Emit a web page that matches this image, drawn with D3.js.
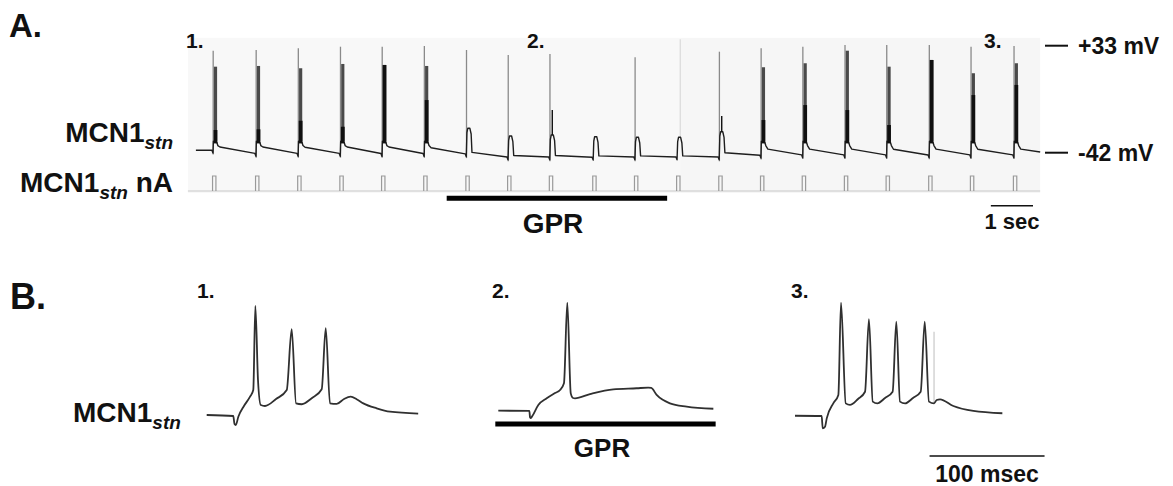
<!DOCTYPE html>
<html><head><meta charset="utf-8">
<script src="https://cdn.jsdelivr.net/npm/d3@7"></script>
<style>
body{margin:0;background:#fff}
svg{display:block}
text{font-family:"Liberation Sans",Arial,sans-serif;font-weight:bold;fill:#111}
</style>
</head><body>
<svg id="c" width="1173" height="486"></svg>
<script>
// ---------- Panel A data (time in s, membrane potential in mV) ----------
const burstTimes = [0.55,1.57,2.57,3.57,4.56,5.56,6.56,7.55,8.54,9.57,10.56,11.56,12.56,13.55,14.54,15.54,16.53,17.54,18.53,19.55];
const spikePeak  = [29.5,30.0,31.2,32.3,32.3,32.8,30.0,26.5,27.2,null,24.9,null,28.8,31.2,32.3,33.5,33.5,33.5,32.3,32.8];
const bandTop    = [18.3,18.8,17.2,20.2,19.5,18.8,null,null,null,null,null,null,null,17.9,20.7,29.5,18.3,23.0,13.7,20.7];
const coreTop    = [-26.1,-25.6,-19.6,-23.8,19.5,-5.1,null,null,-12.1,null,null,null,-16.3,-19.1,-8.6,-12.1,-22.6,23.0,-1.6,5.5];
const humpTop    = [null,null,null,null,null,null,-24.9,-30.3,-29.6,-30.8,-31.2,-31.2,-27.3,null,null,null,null,null,null,null];
const preLevel   = [-40.3,-42.5,-42.5,-42.5,-42.6,-42.6,-42.8,-45.0,-45.0,-45.2,-45.0,-45.0,-45.0,-43.8,-43.5,-43.5,-43.5,-43.6,-43.5,-43.5];
const postLevel  = [-38.0,-38.0,-38.2,-38.0,-38.0,-38.5,-41.8,-44.0,-44.0,-44.2,-44.2,-44.2,-42.0,-39.5,-39.5,-39.5,-39.6,-39.5,-39.6,-39.5];
const traceStartA = 0.14, traceEndA = 20.17, traceEndLevel = -41.5;
const stimAmplitude = 1;            // command pulse (relative nA)
const stimDuration = 0.08;          // s
const gprA = [6.09, 11.32];         // s, GPR application bar
const scaleBarA = [19.0, 20.0];     // 1 sec
const voltTicks = [33, -42];
const voltTickLabels = ["+33 mV", "-42 mV"];
const seamTime = 11.63;

// ---------- Panel B data (time in ms, membrane potential in mV) ----------
const trace1 = [[0,-45],[23.1,-45.7],[24.2,-51.2],[25.3,-51.9],[27.5,-46.2],[32.4,-38.8],[37.7,-32.4],[40.5,-27.8],[42.3,30],[44.6,-20.9],[47.0,-38.1],[50.7,-38.8],[60.3,-34.0],[69.6,-27.8],[73.9,14.0],[77.7,-37.0],[82.6,-37.6],[91.6,-33.3],[100.0,-27.3],[103.5,14.7],[107.2,-37.0],[113.0,-37.4],[119.4,-34.0],[125.2,-32.4],[130.7,-34.3],[136.2,-37.0],[147.8,-40.4],[159.4,-42.7],[183.9,-44.0]];
const trace2 = [[0,-42.0],[27.0,-42.2],[27.6,-46.6],[28.3,-47.1],[29.6,-45.7],[34.8,-38.1],[42.1,-33.5],[49.3,-29.9],[53.7,-27.8],[57.1,-23.2],[60.0,32.3],[63.0,-30.1],[65.0,-33.3],[66.7,-33.5],[79.7,-30.6],[100.0,-27.3],[120.3,-26.6],[130.4,-26.2],[133.0,-26.4],[137.7,-31.2],[149.3,-37.0],[163.8,-39.3],[187.0,-40.7]];
const trace3 = [[0,-45.5],[23.2,-45.7],[24.1,-54.2],[26.1,-53.1],[27.6,-47.3],[33.3,-37.0],[37.7,-31.2],[40.0,32.3],[44.1,-37.0],[47.8,-38.1],[54.8,-34.0],[60.9,-29.0],[64.3,20.9],[67.6,-35.8],[71.6,-37.0],[78.3,-33.3],[84.9,-29.0],[88.1,19.2],[91.3,-35.8],[95.7,-37.0],[102.6,-33.3],[109.3,-29.0],[112.8,19.2],[116.5,-35.8],[120.9,-37.0],[123.2,-34.7],[126.1,-34.2],[137.7,-38.8],[155.1,-42.2],[180.3,-43.8]];
const trace3Artifact = [[120.9,12.3],[120.9,-37.0]];
const gprB = [-2.6, 189.0];         // ms on trace 2 time base
const scaleBarB = [117, 217];       // 100 msec on trace 3 time base
const panelLabels = ["1.","2.","3."];

// ---------- drawing ----------
const svg = d3.select("#c");

const xA = d3.scaleLinear().domain([0,20]).range([190,1033]);
const yA = d3.scaleLinear().domain([-42,33]).range([152.7,45.7]);
const yStim = d3.scaleLinear().domain([0,stimAmplitude]).range([191,176]);

// recording background
svg.append("rect").attr("x",xA(-0.05)).attr("y",yA(38.5))
  .attr("width",xA(seamTime)-xA(-0.05)).attr("height",yStim(-0.13)-yA(38.5)).attr("fill","#f8f8f8");
svg.append("rect").attr("x",xA(seamTime)).attr("y",yA(38.5))
  .attr("width",xA(traceEndA)-xA(seamTime)).attr("height",yStim(-0.13)-yA(38.5)).attr("fill","#f6f6f6");
svg.append("line").attr("x1",xA(seamTime)).attr("x2",xA(seamTime))
  .attr("y1",yA(37.5)).attr("y2",yA(-32)).attr("stroke","#d4d4d4").attr("stroke-width",1);

// stim channel
svg.append("line").attr("x1",xA(-0.05)).attr("x2",xA(traceEndA))
  .attr("y1",yStim(0)).attr("y2",yStim(0)).attr("stroke","#c8c8c8").attr("stroke-width",1);
svg.append("g").selectAll("path").data(burstTimes).join("path")
  .attr("d",t=>{
    const a=xA(t-0.015), b=xA(t-0.015+stimDuration);
    return `M${a},${yStim(0)}L${a},${yStim(stimAmplitude)}L${b},${yStim(stimAmplitude)}L${b},${yStim(0)}`;
  })
  .attr("fill","none").attr("stroke","#9a9a9a").attr("stroke-width",1.2);

// thin gray spikes
svg.append("g").selectAll("line").data(burstTimes.map((t,i)=>({t,i})).filter(d=>spikePeak[d.i]!=null)).join("line")
  .attr("x1",d=>xA(d.t)).attr("x2",d=>xA(d.t))
  .attr("y1",d=>yA(spikePeak[d.i])).attr("y2",d=>yA(preLevel[d.i]-3))
  .attr("stroke","#8a8a8a").attr("stroke-width",1.3);

// burst bands
svg.append("g").selectAll("line").data(burstTimes.map((t,i)=>({t,i})).filter(d=>bandTop[d.i]!=null)).join("line")
  .attr("x1",d=>xA(d.t+0.055)).attr("x2",d=>xA(d.t+0.055))
  .attr("y1",d=>yA(bandTop[d.i])).attr("y2",d=>yA(-34))
  .attr("stroke","#4a4a4a").attr("stroke-width",3.2);

// main trace A
const ptsA = [[traceStartA, preLevel[0]]];
burstTimes.forEach((t,i)=>{
  const gpr = humpTop[i]!=null;
  ptsA.push([t-0.03, preLevel[i]]);
  ptsA.push([t-0.005, preLevel[i]-2]);
  if(gpr){
    ptsA.push([t+0.01, humpTop[i]-3]);
    ptsA.push([t+0.03, humpTop[i]]);
    ptsA.push([t+0.08, humpTop[i]]);
    ptsA.push([t+0.11, humpTop[i]-4]);
    ptsA.push([t+0.13, postLevel[i]]);
  } else {
    ptsA.push([t+0.005, -34]);
    ptsA.push([t+0.09, -35]);
    ptsA.push([t+0.11, -37]);
    ptsA.push([t+0.16, postLevel[i]]);
  }
});
ptsA.push([traceEndA, traceEndLevel]);
svg.append("path").datum(ptsA)
  .attr("d",d3.line().x(d=>xA(d[0])).y(d=>yA(d[1])))
  .attr("fill","none").attr("stroke","#1e1e1e").attr("stroke-width",1.4).attr("stroke-linejoin","round");

// dark burst cores
svg.append("g").selectAll("line").data(burstTimes.map((t,i)=>({t,i})).filter(d=>coreTop[d.i]!=null)).join("line")
  .attr("x1",d=>xA(d.t+0.055)).attr("x2",d=>xA(d.t+0.055))
  .attr("y1",d=>yA(coreTop[d.i]))
  .attr("y2",d=>humpTop[d.i]!=null ? yA(humpTop[d.i]) : yA(-35.5))
  .attr("stroke","#101010").attr("stroke-width",d=>humpTop[d.i]!=null?1.4:3.8);

// voltage ticks
voltTicks.forEach((v,i)=>{
  svg.append("line").attr("x1",1045).attr("x2",1068).attr("y1",yA(v)).attr("y2",yA(v))
    .attr("stroke","#111").attr("stroke-width",2);
  svg.append("text").attr("x",1078).attr("y",yA(v)+7.8).attr("font-size",23).text(voltTickLabels[i]);
});

// GPR bar A
svg.append("line").attr("x1",xA(gprA[0])).attr("x2",xA(gprA[1])).attr("y1",198.3).attr("y2",198.3)
  .attr("stroke","#000").attr("stroke-width",5);
svg.append("text").attr("x",553).attr("y",233).attr("text-anchor","middle").attr("font-size",28).text("GPR");

// 1 sec scale bar
svg.append("line").attr("x1",xA(scaleBarA[0])).attr("x2",xA(scaleBarA[1])).attr("y1",205.7).attr("y2",205.7)
  .attr("stroke","#111").attr("stroke-width",1.6);
svg.append("text").attr("x",(xA(scaleBarA[0])+xA(scaleBarA[1]))/2).attr("y",228.5).attr("text-anchor","middle")
  .attr("font-size",22).text("1 sec");

// panel A labels
svg.append("text").attr("x",9).attr("y",37).attr("font-size",33).text("A.");
[[186,48],[527,48],[984,48]].forEach((p,i)=>svg.append("text").attr("x",p[0]).attr("y",p[1]).attr("font-size",21).text(panelLabels[i]));

function mcnLabel(x,y,anchor,suffix){
  const t = svg.append("text").attr("x",x).attr("y",y).attr("text-anchor",anchor).attr("font-size",28);
  t.append("tspan").text("MCN1");
  t.append("tspan").attr("dy",7).attr("font-size",19).attr("font-style","italic").text("stn");
  if(suffix) t.append("tspan").attr("dy",-7).text(suffix);
}
mcnLabel(173,142,"end",null);
mcnLabel(173,192,"end","\u00a0nA");

// ---------- Panel B ----------
const yB = d3.scaleLinear().domain([-45,30]).range([415,306]);
const xB1 = d3.scaleLinear().domain([0,100]).range([206.7,321.7]);
const xB2 = d3.scaleLinear().domain([0,100]).range([498.3,613.3]);
const xB3 = d3.scaleLinear().domain([0,100]).range([795,910]);

svg.append("text").attr("x",10).attr("y",309).attr("font-size",36).text("B.");
[[197,298],[492,298],[791,298]].forEach((p,i)=>svg.append("text").attr("x",p[0]).attr("y",p[1]).attr("font-size",21).text(panelLabels[i]));
mcnLabel(73,422,"start",null);

svg.append("path").datum(trace3Artifact)
  .attr("d",d3.line().x(d=>xB3(d[0])).y(d=>yB(d[1])))
  .attr("stroke","#c8c8c8").attr("stroke-width",1.2);

[[trace1,xB1],[trace2,xB2],[trace3,xB3]].forEach(([tr,xs])=>{
  svg.append("path").datum(tr)
    .attr("d",d3.line().x(d=>xs(d[0])).y(d=>yB(d[1])).curve(d3.curveMonotoneX))
    .attr("fill","none").attr("stroke","#303030").attr("stroke-width",1.8).attr("stroke-linejoin","round");
});

// GPR bar B
svg.append("line").attr("x1",xB2(gprB[0])).attr("x2",xB2(gprB[1])).attr("y1",424).attr("y2",424)
  .attr("stroke","#000").attr("stroke-width",5);
svg.append("text").attr("x",602).attr("y",456.7).attr("text-anchor","middle").attr("font-size",26).text("GPR");

// 100 msec scale bar
svg.append("line").attr("x1",xB3(scaleBarB[0])).attr("x2",xB3(scaleBarB[1])).attr("y1",456).attr("y2",456)
  .attr("stroke","#111").attr("stroke-width",1.6);
svg.append("text").attr("x",(xB3(scaleBarB[0])+xB3(scaleBarB[1]))/2).attr("y",481.5).attr("text-anchor","middle")
  .attr("font-size",23).text("100 msec");
</script>
</body></html>
